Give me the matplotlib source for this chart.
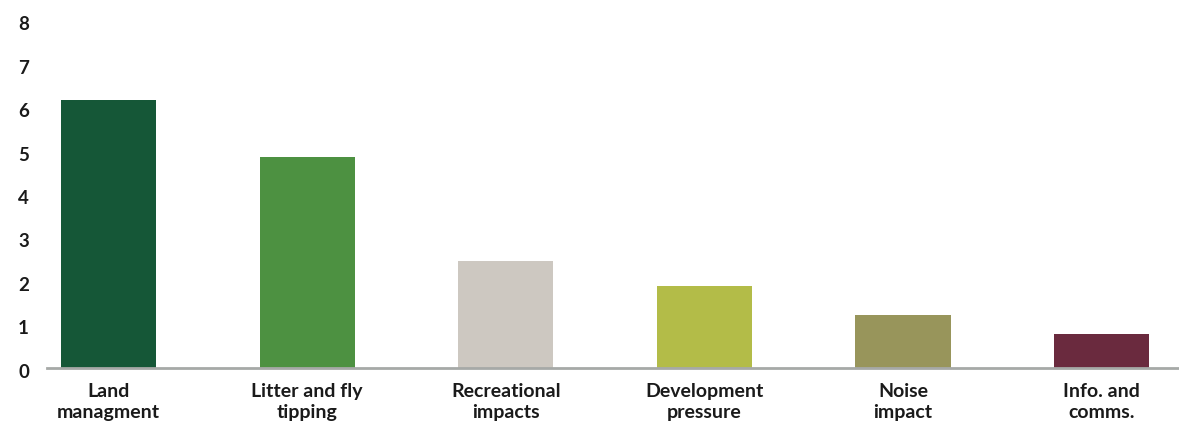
import matplotlib
matplotlib.use("Agg")
import matplotlib.pyplot as plt
import matplotlib.transforms as mtrans

categories = ["Land\nmanagment", "Litter and fly\ntipping", "Recreational\nimpacts",
              "Development\npressure", "Noise\nimpact", "Info. and\ncomms."]
values = [6.18, 4.87, 2.47, 1.89, 1.22, 0.78]
colors = ["#155737", "#4d9141", "#cdc8c1", "#b3bc48", "#98955b", "#6a2a3e"]
yticks = [0, 1, 2, 3, 4, 5, 6, 7, 8]

plt.rcParams['font.family'] = ['Lato', 'DejaVu Sans']

fig = plt.figure(figsize=(11.79, 4.28), dpi=100)
ax = fig.add_axes([47/1179, 60/428, 1 - 47/1179, 347/428])

x = list(range(len(categories)))
ax.bar(x, values, width=0.479, color=colors, zorder=2)

ax.set_xlim(-0.31, 5.39)
ax.set_ylim(0, 8)
ax.set_yticks(yticks)
ax.set_yticklabels([str(t) for t in yticks])
ax.set_xticks(x)
ax.set_xticklabels(categories, linespacing=1.3)

for s in ["top", "right", "left"]:
    ax.spines[s].set_visible(False)
ax.spines["bottom"].set_color("#a6a9a7")
ax.spines["bottom"].set_linewidth(2.0)
ax.spines["bottom"].set_zorder(3)

ax.tick_params(axis="y", length=0, labelsize=13.5, labelcolor="#1a1a1a", pad=13)
ax.tick_params(axis="x", length=0, labelsize=14, labelcolor="#1a1a1a", pad=11)
off = mtrans.ScaledTranslation(0, -2.5/100, fig.dpi_scale_trans)
for lab in ax.get_yticklabels():
    lab.set_fontweight("bold")
    lab.set_transform(lab.get_transform() + off)
for lab in ax.get_xticklabels():
    lab.set_fontweight("bold")

fig.savefig("out.png", dpi=100)
